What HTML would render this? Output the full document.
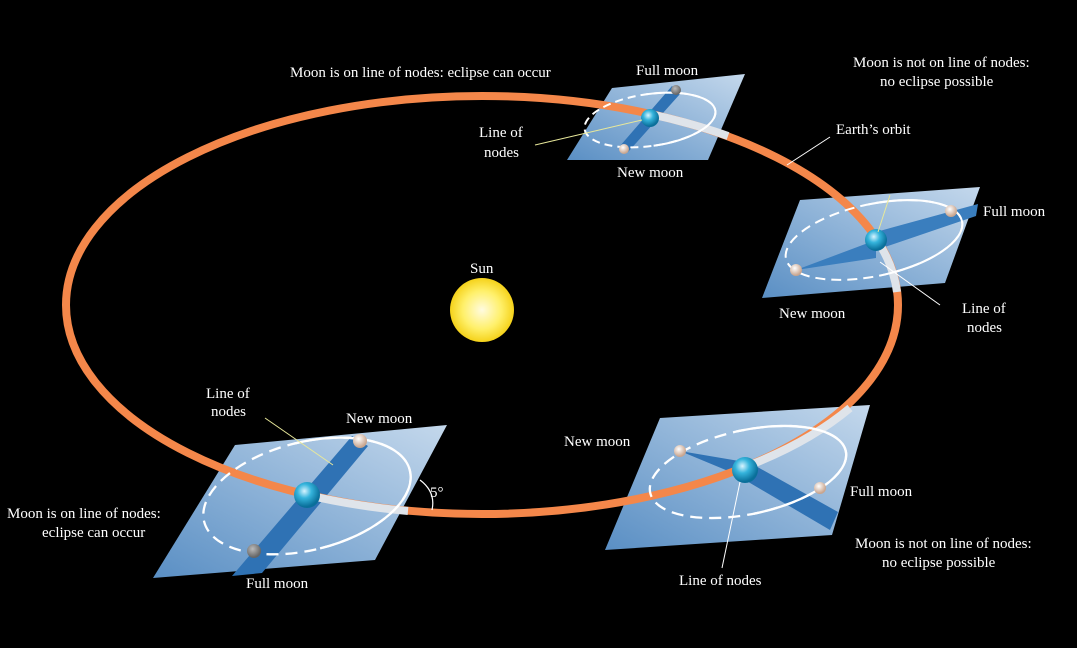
<!DOCTYPE html>
<html><head><meta charset="utf-8"><style>
html,body{margin:0;padding:0;background:#000;}
svg{display:block}
text{font-family:"Liberation Serif",serif;font-size:15px;fill:#fff;}
</style></head><body>
<svg width="1077" height="648" viewBox="0 0 1077 648" xmlns="http://www.w3.org/2000/svg">
<defs>
<radialGradient id="sun" cx="50%" cy="50%" r="50%">
<stop offset="0" stop-color="#fffbe0"/><stop offset="0.6" stop-color="#fff06a"/><stop offset="1" stop-color="#f5d21a"/></radialGradient>
<radialGradient id="earth" cx="40%" cy="35%" r="60%">
<stop offset="0" stop-color="#d8f4ff"/><stop offset="0.45" stop-color="#35b4dc"/><stop offset="1" stop-color="#0a6f9a"/></radialGradient>
<radialGradient id="moon" cx="40%" cy="35%" r="60%">
<stop offset="0" stop-color="#fff"/><stop offset="1" stop-color="#c9a58e"/></radialGradient>
<radialGradient id="moonD" cx="40%" cy="35%" r="60%">
<stop offset="0" stop-color="#bbb"/><stop offset="1" stop-color="#666"/></radialGradient>
<linearGradient id="plane" x1="0" y1="1" x2="1" y2="0">
<stop offset="0" stop-color="#5a8fc4"/><stop offset="1" stop-color="#c4d8ec"/></linearGradient>
<clipPath id="c1"><rect x="650" y="0" width="400" height="648"/></clipPath>
<clipPath id="c2"><rect x="876" y="0" width="400" height="648"/></clipPath>
<clipPath id="c3"><rect x="307" y="0" width="400" height="648"/></clipPath>
<clipPath id="c4"><rect x="745" y="0" width="400" height="648"/></clipPath>
</defs>

<polygon points="612,88 745,74 708,160 567,160" fill="url(#plane)"/>
<polygon points="672,86 680,94 628,152 620,146" fill="#2f72b4"/>
<polygon points="800,200 980,187 945,283 762,298" fill="url(#plane)"/>
<polygon points="876,232 978,204 976,216 876,250" fill="#3a7ebe"/>
<polygon points="796,270 876,240 876,258" fill="#3a7ebe"/>
<polygon points="235,445 447,425 375,560 153,578" fill="url(#plane)"/>
<polygon points="352,436 368,446 262,573 232,576" fill="#2f72b4"/>
<polygon points="660,418 870,405 832,535 605,550" fill="url(#plane)"/>
<polygon points="745,460 838,512 830,530 745,480" fill="#2f72b4"/>
<polygon points="680,451 745,462 745,478" fill="#2f72b4"/>

<ellipse cx="482" cy="305" rx="416" ry="209" fill="none" stroke="#f4874a" stroke-width="8"/>
<path d="M650,114 A416,209 0 0 1 728,136" stroke="#dfe4ea" stroke-width="8" fill="none"/>
<path d="M877,240 A416,209 0 0 1 897,292" stroke="#dfe4ea" stroke-width="8" fill="none"/>
<path d="M307,495 A416,209 0 0 0 408,511" stroke="#dfe4ea" stroke-width="8" fill="none"/>
<path d="M745,467 A416,209 0 0 0 850,408" stroke="#dfe4ea" stroke-width="8" fill="none"/>

<g fill="none" stroke="#fff" stroke-width="2">
<ellipse cx="650" cy="120" rx="66" ry="26" transform="rotate(-8 650 120)" stroke-dasharray="8 5"/>
<ellipse cx="650" cy="120" rx="66" ry="26" transform="rotate(-8 650 120)" clip-path="url(#c1)"/>
<ellipse cx="874" cy="240" rx="90" ry="36" transform="rotate(-12 874 240)" stroke-dasharray="10 6"/>
<ellipse cx="874" cy="240" rx="90" ry="36" transform="rotate(-12 874 240)" clip-path="url(#c2)"/>
<ellipse cx="307" cy="496" rx="106" ry="54" transform="rotate(-14 307 496)" stroke-dasharray="12 7" stroke-width="2.3"/>
<ellipse cx="307" cy="496" rx="106" ry="54" transform="rotate(-14 307 496)" clip-path="url(#c3)" stroke-width="2.3"/>
<ellipse cx="748" cy="472" rx="100" ry="42" transform="rotate(-12 748 472)" stroke-dasharray="12 7" stroke-width="2.3"/>
<ellipse cx="748" cy="472" rx="100" ry="42" transform="rotate(-12 748 472)" clip-path="url(#c4)" stroke-width="2.3"/>
</g>

<circle cx="482" cy="310" r="32" fill="url(#sun)"/>

<circle cx="676" cy="90" r="5" fill="url(#moonD)"/>
<circle cx="624" cy="149" r="5" fill="url(#moon)"/>
<circle cx="650" cy="118" r="9" fill="url(#earth)"/>
<circle cx="951" cy="211" r="6" fill="url(#moon)"/>
<circle cx="796" cy="270" r="6" fill="url(#moon)"/>
<circle cx="876" cy="240" r="11" fill="url(#earth)"/>
<circle cx="360" cy="441" r="7" fill="url(#moon)"/>
<circle cx="254" cy="551" r="7" fill="url(#moonD)"/>
<circle cx="307" cy="495" r="13" fill="url(#earth)"/>
<circle cx="680" cy="451" r="6" fill="url(#moon)"/>
<circle cx="820" cy="488" r="6" fill="url(#moon)"/>
<circle cx="745" cy="470" r="13" fill="url(#earth)"/>

<path d="M420,480 Q436,492 432,510" stroke="#fff" stroke-width="1.2" fill="none"/>
<text x="430" y="497">5°</text>

<line x1="830" y1="137" x2="787" y2="165" stroke="#fff" stroke-width="1"/>
<line x1="535" y1="145" x2="642" y2="120" stroke="#e8e89a" stroke-width="1"/>
<line x1="940" y1="305" x2="880" y2="262" stroke="#fff" stroke-width="1"/>
<line x1="878" y1="232" x2="890" y2="195" stroke="#e8e89a" stroke-width="1"/>
<line x1="265" y1="418" x2="333" y2="465" stroke="#e8e89a" stroke-width="1"/>
<line x1="722" y1="568" x2="740" y2="482" stroke="#fff" stroke-width="1"/>

<text x="290" y="77">Moon is on line of nodes: eclipse can occur</text>
<text x="636" y="75">Full moon</text>
<text x="479" y="137">Line of</text>
<text x="484" y="157">nodes</text>
<text x="617" y="177">New moon</text>
<text x="853" y="67">Moon is not on line of nodes:</text>
<text x="880" y="86">no eclipse possible</text>
<text x="836" y="134">Earth’s orbit</text>
<text x="983" y="216">Full moon</text>
<text x="779" y="318">New moon</text>
<text x="962" y="313">Line of</text>
<text x="967" y="332">nodes</text>
<text x="470" y="273">Sun</text>
<text x="206" y="398">Line of</text>
<text x="211" y="416">nodes</text>
<text x="346" y="423">New moon</text>
<text x="7" y="518">Moon is on line of nodes:</text>
<text x="42" y="537">eclipse can occur</text>
<text x="246" y="588">Full moon</text>
<text x="564" y="446">New moon</text>
<text x="850" y="496">Full moon</text>
<text x="855" y="548">Moon is not on line of nodes:</text>
<text x="882" y="567">no eclipse possible</text>
<text x="679" y="585">Line of nodes</text>
</svg>
</body></html>
